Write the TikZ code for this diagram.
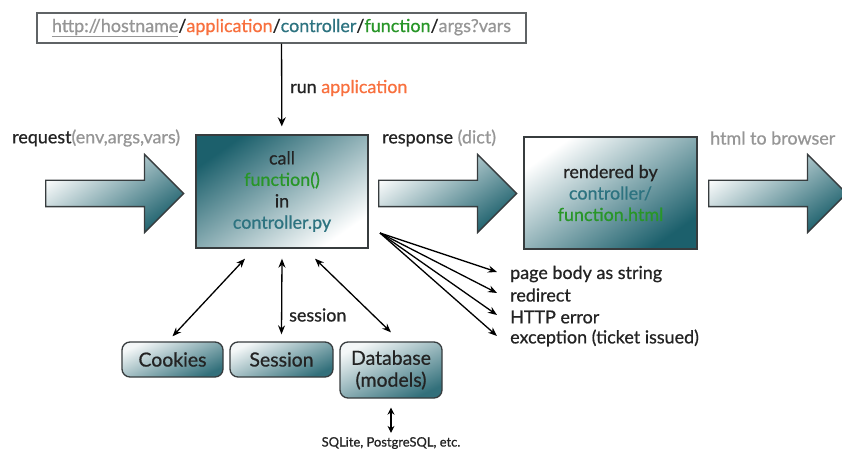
\documentclass[tikz,border=0pt]{standalone}
\usepackage{fontspec}
\setmainfont{Lato}[RawFeature={embolden=0.7}]
\definecolor{tealdark}{RGB}{28, 96, 108}
\definecolor{boxline}{RGB}{55, 60, 62}
\definecolor{txtdark}{RGB}{35, 35, 35}
\definecolor{txtgray}{RGB}{150, 150, 150}
\definecolor{apporange}{RGB}{248, 112, 62}
\definecolor{ctrlteal}{RGB}{45, 115, 128}
\definecolor{fngreen}{RGB}{40, 150, 40}
\usetikzlibrary{shapes.arrows, arrows.meta, positioning, calc}
\newcommand{\diagfont}{\fontsize{18}{21.5}\selectfont}

\begin{document}
\begin{tikzpicture}[x=1bp, y=-1bp, font=\diagfont, text=txtdark,
    tealbox/.style={draw=boxline, line width=1.4bp, align=center, inner sep=0pt},
    bigarrow/.style={single arrow, anchor=tail, draw=boxline, line width=1.3bp, shade, top color=white, bottom color=tealdark, shading angle=35, minimum height=138bp, single arrow head extend=26bp, inner xsep=0pt, inner ysep=12.5bp, single arrow tip angle=90},
    storebox/.style={draw=boxline, line width=1.3bp, rounded corners=8bp, shade, top color=tealdark!5, bottom color=tealdark!90, shading angle=25, align=center, inner sep=0pt, font=\fontsize{19.5}{22}\selectfont},
    outlabel/.style={anchor=west, inner sep=0pt},
    conn/.style={line width=1.3bp, draw=black}]
  \useasboundingbox (0,0) rectangle (842,451);

  % The URL
  \node[draw=boxline!80, line width=1.3bp, fill=white, minimum width=489bp, minimum height=30bp, inner sep=0pt] (url) at (281.5,28) {
    \textcolor{txtgray}{\underline{http://hostname}}/\textcolor{apporange}{application}/\textcolor{ctrlteal}{controller}/\textcolor{fngreen}{function}/\textcolor{txtgray}{args?vars}
  };

  % Controller call
  \node[tealbox, shade, top color=tealdark, bottom color=white, shading angle=35, minimum width=172bp, minimum height=113bp] (main) at (282,191.5) {
    call\\
    \textcolor{fngreen}{function()}\\
    in\\
    \textcolor{ctrlteal}{controller.py}
  };

  % View
  \node[tealbox, shade, top color=white, bottom color=tealdark, shading angle=35, minimum width=173bp, minimum height=112bp] (render) at (610.5,193) {
    rendered by\\
    \textcolor{ctrlteal}{controller/}\\
    \textcolor{fngreen}{function.html}
  };

  % Big arrows
  \node[bigarrow] (inarrow) at (45,193.5) {};
  \node[bigarrow] (outarrow) at (378,193.5) {};
  \node[bigarrow] (htmlarrow) at (708,193.5) {};

  \node[outlabel] (request) at (12,138) {request\textcolor{txtgray}{(env,args,vars)}};
  \node[outlabel] (response) at (382,138) {response \textcolor{txtgray}{(dict)}};
  \node[outlabel, text=txtgray] (browser) at (710,138) {html to browser};

  % Run application
  \draw[conn, -{Stealth[length=9bp, width=8bp]}, shorten >=8bp] (url) -- (main);
  \node[outlabel] (run) at (290,88) {run \textcolor{apporange}{application}};

  % Possible results
  \coordinate (fan) at (380,233);
  \node[outlabel] (body) at (510,274) {page body as string};
  \node[outlabel] (redir) at (510,295) {redirect};
  \node[outlabel] (httperr) at (510,317) {HTTP error};
  \node[outlabel] (exc) at (510,338) {exception (ticket issued)};
  \foreach \res in {body, redir, httperr, exc}
    \draw[conn, -{Stealth[length=9bp, width=7bp]}] (fan) -- ([xshift=-13bp, yshift=2bp]\res.west);

  % Storage
  \node[storebox, minimum width=101bp, minimum height=35bp] (cookies) at (172.5,359.5) {Cookies};
  \node[storebox, minimum width=103bp, minimum height=35bp] (session) at (281.5,359.5) {Session};
  \node[storebox, minimum width=102bp, minimum height=56bp] (db) at (391,370) {Database\\(models)};

  \draw[conn, {Stealth[length=9bp, width=7bp]}-{Stealth[length=9bp, width=7bp]}] ($(main.south)+(-37,10)$) -- ($(cookies.north)+(0,-5)$);
  \draw[conn, {Stealth[length=9bp, width=7bp]}-{Stealth[length=9bp, width=7bp]}] ($(main.south)+(0,10)$) -- ($(session.north)+(0,-7)$);
  \draw[conn, {Stealth[length=9bp, width=7bp]}-{Stealth[length=9bp, width=7bp]}] ($(main.south)+(33,10)$) -- ($(db.north)+(0,-9)$);
  \node[outlabel] (sesslabel) at (289,315) {session};

  \node[font=\fontsize{13}{15}\selectfont, inner sep=0pt] (sql) at (391,443) {SQLite, PostgreSQL, etc.};
  \draw[conn, {Stealth[length=7bp, width=7bp]}-{Stealth[length=7bp, width=7bp]}] ($(db.south)+(0,9)$) -- ($(sql.north)+(0,-4)$);
\end{tikzpicture}
\end{document}
